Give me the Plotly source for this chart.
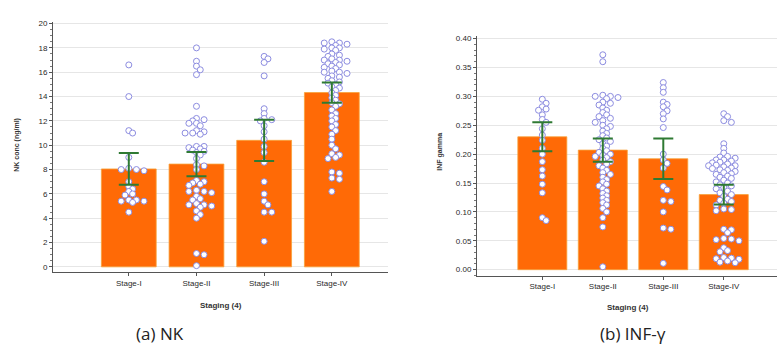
import numpy as np
import plotly.graph_objects as go

stages = ["Stage-I", "Stage-II", "Stage-III", "Stage-IV"]

# NK concentration (ng/ml) individual values
nk_stage1 = [16.6, 14.0, 11.2, 11.0, 9.0, 8.1, 8.0, 8.0, 7.9, 7.0, 6.6, 6.4, 6.2, 6.0, 5.9,
             5.5, 5.5, 5.4, 5.4, 5.3, 4.5]
nk_stage2 = [18.0, 16.9, 16.5, 16.2, 15.8, 13.2, 12.2, 12.1, 12.0, 11.8, 11.8, 11.6, 11.2, 11.1,
             11.0, 11.0, 10.9, 9.9, 9.9, 9.8, 9.7, 9.6, 9.5, 9.4, 9.2, 8.9, 8.4, 8.3, 8.0, 7.1,
             7.0, 6.9, 6.8, 6.7, 6.3, 6.2, 6.2, 6.1, 5.8, 5.6, 5.5, 5.2, 5.1, 5.1, 5.0, 4.9, 4.6,
             4.3, 4.0, 1.1, 1.0, 0.1]
nk_stage3 = [17.3, 17.1, 16.8, 15.7, 13.0, 12.6, 12.2, 12.1, 12.0, 11.6, 11.1, 10.5, 9.9, 9.4,
             8.6, 7.0, 6.0, 5.4, 5.1, 4.5, 4.5, 2.1]
nk_stage4 = [18.5, 18.4, 18.4, 18.3, 18.2, 18.0, 18.0, 17.9, 17.8, 17.5, 17.4, 17.3, 17.1, 17.0,
             17.0, 16.9, 16.8, 16.7, 16.6, 16.5, 16.4, 16.3, 16.1, 16.0, 16.0, 15.9, 15.7, 15.6,
             15.5, 15.3, 15.2, 15.1, 15.0, 14.8, 14.7, 14.5, 14.3, 14.1, 13.9, 13.7, 13.5, 13.4,
             13.2, 12.9, 12.6, 12.4, 12.2, 12.0, 11.7, 11.5, 11.2, 10.9, 10.5, 10.0, 9.7, 9.3,
             9.2, 9.0, 8.9, 7.8, 7.7, 7.3, 7.2, 6.2]
nk_mean = [8.05, 8.45, 10.4, 14.33]
nk_ci = [1.3, 1.0, 1.7, 0.83]

# INF gamma individual values
inf_stage1 = [0.295, 0.288, 0.282, 0.278, 0.276, 0.268, 0.26, 0.255, 0.244, 0.233, 0.224, 0.21,
              0.2, 0.187, 0.173, 0.162, 0.148, 0.133, 0.09, 0.085]
inf_stage2 = [0.372, 0.36, 0.302, 0.300, 0.300, 0.298, 0.296, 0.29, 0.288, 0.285, 0.28, 0.276,
              0.272, 0.268, 0.265, 0.262, 0.258, 0.255, 0.25, 0.248, 0.244, 0.24, 0.236, 0.232,
              0.228, 0.225, 0.222, 0.218, 0.214, 0.21, 0.206, 0.203, 0.2, 0.198, 0.196, 0.194,
              0.19, 0.187, 0.183, 0.18, 0.176, 0.172, 0.168, 0.165, 0.16, 0.156, 0.152, 0.148,
              0.145, 0.14, 0.136, 0.132, 0.128, 0.124, 0.12, 0.116, 0.112, 0.106, 0.1, 0.09,
              0.074, 0.005]
inf_stage3 = [0.324, 0.315, 0.307, 0.29, 0.286, 0.282, 0.275, 0.27, 0.261, 0.246, 0.2, 0.19,
              0.184, 0.176, 0.144, 0.138, 0.12, 0.118, 0.1, 0.072, 0.07, 0.011]
inf_stage4 = [0.27, 0.265, 0.258, 0.255, 0.218, 0.21, 0.202, 0.196, 0.195, 0.193, 0.19, 0.19,
              0.188, 0.186, 0.185, 0.183, 0.181, 0.18, 0.18, 0.178, 0.176, 0.175, 0.173, 0.172,
              0.17, 0.168, 0.166, 0.165, 0.162, 0.16, 0.158, 0.155, 0.152, 0.15, 0.147, 0.145,
              0.142, 0.14, 0.136, 0.133, 0.13, 0.127, 0.122, 0.12, 0.118, 0.115, 0.112, 0.105,
              0.104, 0.102, 0.07, 0.069, 0.064, 0.054, 0.053, 0.052, 0.05, 0.038, 0.033, 0.031,
              0.021, 0.02, 0.019, 0.018, 0.015, 0.013, 0.012]
inf_mean = [0.230, 0.207, 0.192, 0.130]
inf_ci = [0.025, 0.02, 0.035, 0.017]

nk_y_ticks = [0, 2, 4, 6, 8, 10, 12, 14, 16, 18, 20]
inf_y_ticks = [0.0, 0.05, 0.10, 0.15, 0.20, 0.25, 0.30, 0.35, 0.40]

W, H = 782, 347
BAR = "#FF6A06"
GREEN = "#2F7A33"
PT_LINE = "#8C8CE0"
FONT = "Liberation Sans"


def swarm(values, center, px_x, px_y, sep=4.2, step=3.8):
    """Deterministic beeswarm offsets computed from values (pixel space)."""
    order = np.argsort(values)[::-1]
    placed = []
    xs = np.zeros(len(values))
    for i in order:
        yp = values[i] * px_y
        k = 0
        while True:
            off = ((k + 1) // 2) * step * (1 if k % 2 == 1 else -1) if k else 0.0
            ok = all((off - px) ** 2 + (yp - py) ** 2 >= sep ** 2 for px, py in placed)
            if ok:
                break
            k += 1
        placed.append((off, yp))
        xs[i] = center + off / px_x
    return xs


fig = go.Figure()

panels = [
    dict(groups=[nk_stage1, nk_stage2, nk_stage3, nk_stage4], mean=nk_mean, ci=nk_ci,
         xa="x", ya="y", px_x=67.7, px_y=12.27),
    dict(groups=[inf_stage1, inf_stage2, inf_stage3, inf_stage4], mean=inf_mean, ci=inf_ci,
         xa="x2", ya="y2", px_x=60.5, px_y=583.0),
]

for p in panels:
    cats = list(range(len(stages)))
    fig.add_trace(go.Bar(x=cats, y=p["mean"], width=0.81,
                         marker=dict(color=BAR, line=dict(color="#F7A23A", width=0.8)),
                         xaxis=p["xa"], yaxis=p["ya"], showlegend=False))
    for ci_, vals in enumerate(p["groups"]):
        v = np.array(vals)
        xs = swarm(v, ci_, p["px_x"], p["px_y"])
        fig.add_trace(go.Scatter(x=xs, y=v, mode="markers", xaxis=p["xa"], yaxis=p["ya"], showlegend=False,
                                 marker=dict(symbol="circle", size=6, color="white",
                                             line=dict(color=PT_LINE, width=1))))
    fig.add_trace(go.Scatter(x=cats, y=p["mean"], mode="markers", xaxis=p["xa"], yaxis=p["ya"], showlegend=False,
                             marker=dict(size=1, color="rgba(0,0,0,0)"),
                             error_y=dict(type="data", array=p["ci"], visible=True, color=GREEN,
                                          thickness=2, width=10)))

axis_common = dict(showline=True, linecolor="#555", linewidth=1, ticks="outside", ticklen=3,
                   tickcolor="#555", tickfont=dict(family=FONT, size=8, color="#2a2a2a"),
                   zeroline=False)

fig.update_layout(
    width=W, height=H, margin=dict(l=0, r=0, t=0, b=0),
    paper_bgcolor="white", plot_bgcolor="white", showlegend=False,
    xaxis=dict(domain=[53 / W, 388 / W], range=[-1.12, 3.83], tickvals=[0, 1, 2, 3],
               ticktext=stages, showgrid=False, anchor="y", **axis_common),
    yaxis=dict(domain=[1 - 271.7 / H, 1 - 19.5 / H], range=[-0.45, 20.1], tickvals=nk_y_ticks,
               showgrid=True, gridcolor="#e6e6e6", gridwidth=1, anchor="x",
               minor=dict(ticks="outside", ticklen=2, tickcolor="#777", dtick=0.5, showgrid=False),
               **axis_common),
    xaxis2=dict(domain=[477 / W, 777 / W], range=[-1.08, 3.88], tickvals=[0, 1, 2, 3],
                ticktext=stages, showgrid=False, anchor="y2", **axis_common),
    yaxis2=dict(domain=[1 - 275 / H, 1 - 33 / H], range=[-0.0103, 0.405], tickvals=inf_y_ticks,
                tickformat=".2f", showgrid=True, gridcolor="#e6e6e6", gridwidth=1, anchor="x2",
                minor=dict(ticks="outside", ticklen=2, tickcolor="#777", dtick=0.01, showgrid=False),
                **axis_common),
)

ann = [
    dict(text="<b>NK conc (ng/ml)</b>", x=17 / W, y=1 - 143 / H, textangle=-90, size=7),
    dict(text="<b>INF gamma</b>", x=440 / W, y=1 - 150 / H, textangle=-90, size=7),
    dict(text="<b>Staging (4)</b>", x=221 / W, y=1 - 305 / H, textangle=0, size=8),
    dict(text="<b>Staging (4)</b>", x=628 / W, y=1 - 307 / H, textangle=0, size=8),
]
for a in ann:
    fig.add_annotation(text=a["text"], x=a["x"], y=a["y"], xref="paper", yref="paper",
                       textangle=a["textangle"], showarrow=False, xanchor="center", yanchor="middle",
                       font=dict(family=FONT, size=a["size"], color="#333"))

fig.add_annotation(text="(a) NK", x=160 / W, y=1 - 333 / H, xref="paper", yref="paper", showarrow=False,
                   xanchor="center", yanchor="middle", font=dict(family="Open Sans", size=17, color="#222"))
fig.add_annotation(text="(b) INF-γ", x=633 / W, y=1 - 333 / H, xref="paper", yref="paper", showarrow=False,
                   xanchor="center", yanchor="middle", font=dict(family="Open Sans", size=17, color="#222"))

fig.write_html("out.html", config={"displayModeBar": False},
               post_script="document.body.style.margin='0';document.body.style.padding='0';")
